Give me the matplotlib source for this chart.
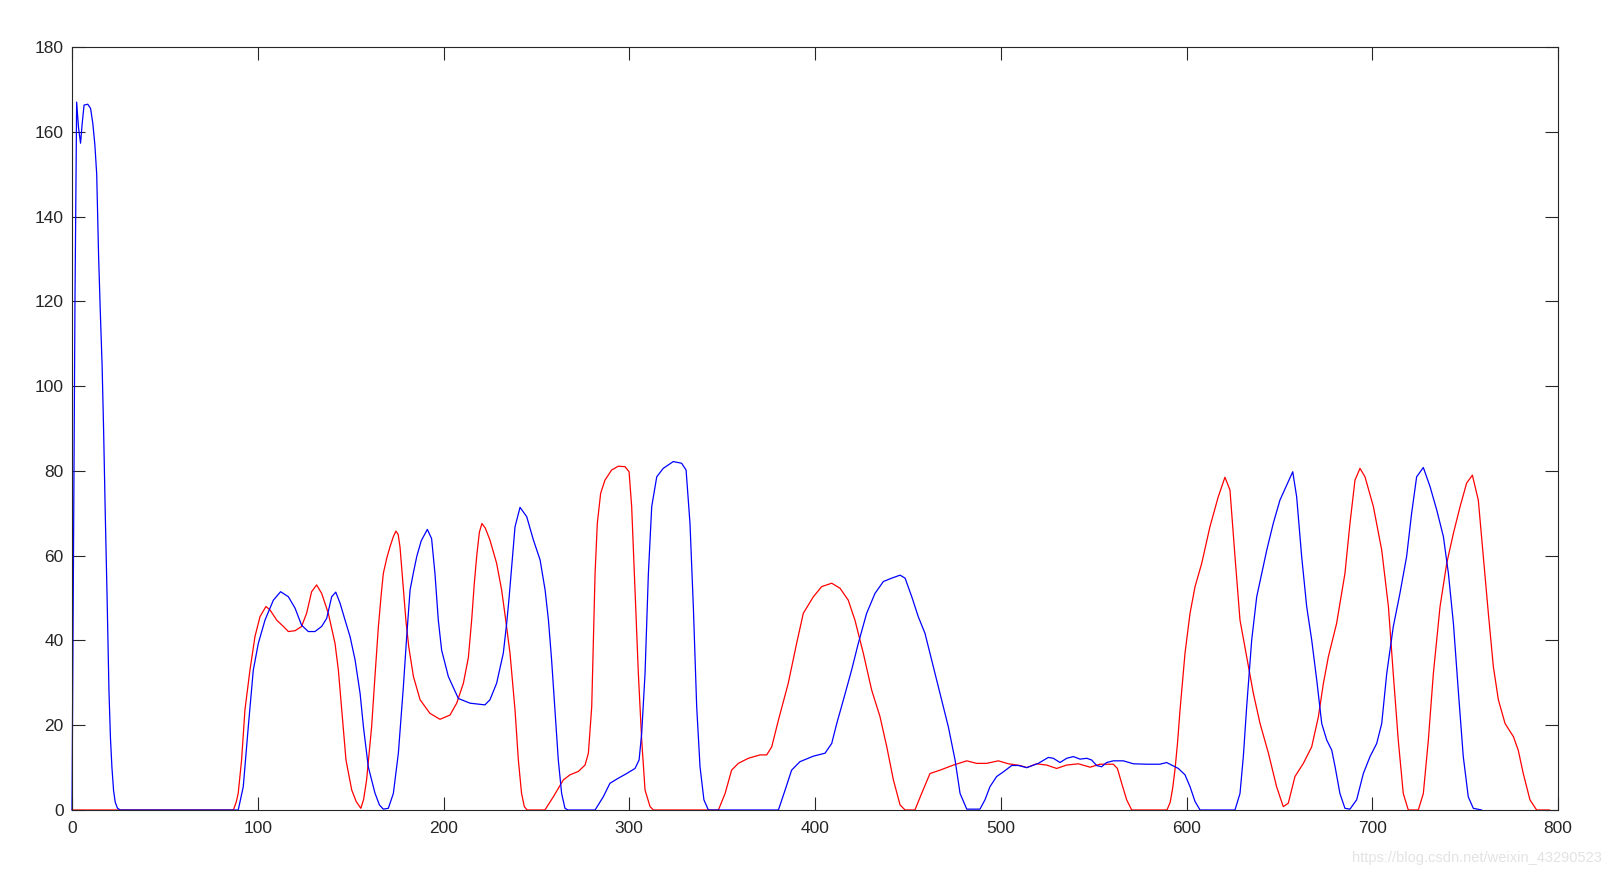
import matplotlib
matplotlib.use("Agg")
import matplotlib.pyplot as plt

# ---- data ----
red_x = [0, 86.9, 88.5, 89.5, 91.3, 93.1, 95.8, 98.5, 101.2, 104.4, 106.6, 110.2, 113.8, 116.5,
         120.1, 123.6, 126.3, 129, 131.7, 134.4, 138, 141.6, 143.4, 145.2, 147.5, 150.6, 153,
         155.5, 157, 158.6, 161.3, 163.1, 164.9, 166.5, 167.6, 169.5, 171.2, 173, 174.4, 175.6,
         176.6, 178.4, 179.8, 181.3, 183.8, 187.4, 192.7, 198.1, 203.5, 207.1, 210.7, 213.4,
         215.2, 216.5, 217.9, 219.3, 220.7, 222.5, 225, 228.6, 231.3, 233.5, 235.8, 238.5,
         240.3, 242, 243.5, 245, 254.6, 259.1, 264.5, 268.1, 272.6, 276.2, 278, 279.8, 280.7,
         281.6, 282.8, 284.6, 286.9, 290.5, 294.1, 297.7, 299.9, 301.3, 303.1, 304.9, 306.7,
         308.5, 311.2, 313, 348, 351.6, 355.1, 358.7, 364.1, 370.4, 374, 376.7, 380.3, 385.6,
         390.1, 393.7, 399.1, 403.6, 409, 413.5, 417.9, 421.5, 426, 430.5, 435, 438.6, 442.2,
         445.8, 448.5, 453.8, 457.4, 461.9, 467.3, 474.5, 481.7, 487, 492.4, 498.7, 504.1,
         510.4, 514, 519.3, 524.7, 530.1, 535.5, 541.8, 548.1, 553.4, 560.6, 562.8, 565.1,
         567.8, 570.5, 589.5, 591.2, 592.5, 593.8, 595.2, 596.5, 598, 599.2, 601.9, 604.6,
         608.2, 612.6, 617.1, 620.7, 623.4, 626.1, 628.8, 632.4, 636, 639.6, 644.1, 648.5,
         652.1, 654.8, 658.4, 662.9, 667.4, 671, 673.7, 676.4, 680.8, 685.3, 688, 690.7, 693.4,
         696.1, 700.6, 705.1, 708.7, 711.3, 714, 716.7, 719.4, 724.8, 727.5, 730.2, 732.9,
         736.5, 740.1, 743.7, 747.3, 750.8, 753.9, 757.1, 759.8, 762.5, 765.2, 767.9, 771.5,
         776, 778.6, 781.3, 784.9, 788.5, 795.5]
red_y = [0, 0, 2, 4, 11.8, 23.6, 33, 40.9, 45.6, 48, 47.2, 44.8, 43.3, 42.1,
         42.3, 43.3, 46.4, 51.5, 53.1, 51.1, 46.4, 39.3, 33, 23.6, 11.8, 4.7, 2,
         0.4, 2.5, 7.1, 19.6, 31.5, 43, 51, 55.8, 59.5, 62.1, 64.5, 65.8, 65,
         62, 52, 44.5, 38.5, 31.5, 26, 22.8, 21.4, 22.4, 25.2, 29.9, 36,
         45, 53, 60, 65.5, 67.6, 66.5, 63.7, 58.2, 51.9, 44.8, 37, 23.6,
         11.8, 4, 0.8, 0, 0, 3.1, 7.1, 8.3, 9.1, 10.6, 13.4, 24.4, 40.1,
         55.8, 67.6, 74.7, 77.8, 80.2, 81.1, 81, 79.8, 71.6, 51.9, 32.2, 16.5,
         4.7, 0.8, 0, 0, 3.9, 9.4, 11, 12.2, 13, 13, 14.9, 21.2, 29.9,
         39.3, 46.4, 50.3, 52.7, 53.5, 52.3, 49.5, 44.8, 37, 28.3, 22, 15, 7.1,
         1.2, 0, 0, 3.9, 8.6, 9.4, 10.6, 11.6, 11, 11, 11.6, 10.9,
         10.5, 10, 10.9, 10.6, 9.8, 10.6, 10.9, 10.1, 10.8, 10.8, 9.8, 6.3,
         2.4, 0, 0, 1.8, 5, 9.5, 16, 23.5, 31, 37, 46.4, 52.7,
         58.2, 66.8, 73.9, 78.5, 75.5, 59.8, 44.8, 36.2, 27.5, 20.4, 13.4, 5.5,
         0.8, 1.6, 7.9, 11, 14.9, 22, 29.9, 36.2, 44, 55.8, 67.6, 77.8, 80.6,
         78.6, 71.6, 61.3, 48, 32.2, 16.5, 3.9, 0, 0, 3.9, 16.5, 32.2,
         48, 58.2, 65.3, 71.6, 77.1, 79, 73.1, 59.8, 46.4, 33.8, 26, 20.4,
         17.3, 14.1, 8.6, 2.4, 0, 0]

blue_x = [0, 0.8, 1.6, 2.5, 3.5, 4.6, 5.5, 6.5, 8.5, 10, 11.2, 12.3, 13.3, 14.3, 15.2, 16.2,
          17, 17.9, 18.9, 19.9, 20.7, 21.5, 22.4, 23.3, 24.5, 26, 89.5, 92.2, 94.9, 97.6,
          100.3, 103.9, 108.4, 112.3, 116.5, 120.1, 123.6, 127.2, 130.8, 134.4, 137.1, 139.8,
          142, 144.3, 147, 149.7, 152.4, 155.1, 156.9, 159.5, 163.1, 165.5, 167.6, 170.3, 173,
          175.7, 178.4, 180.2, 182, 183.8, 185.6, 188, 191.3, 193.6, 195.4, 197.2, 199, 202.6,
          208, 214.3, 222.3, 225, 228.6, 232.2, 234, 235.3, 236.7, 238.5, 241.2, 244.8, 248.4,
          252, 254.7, 256.5, 258.2, 260, 261.8, 263.6, 265.4, 267, 281.6, 286, 289.6, 294.1,
          298.6, 303.1, 305.3, 306.7, 308.5, 310.3, 312.1, 314.8, 318.3, 323.7, 328.2, 330.6,
          332.7, 334.5, 336.3, 338.1, 340.2, 342.6, 380.3, 383.9, 387.4, 391.9, 399.1, 405.4,
          409, 411.7, 415.3, 419.7, 423.3, 427.8, 432.3, 436.8, 441.3, 445.8, 448.5, 452.1,
          455.6, 459.2, 462.8, 467.3, 471.8, 475.4, 478.1, 481.7, 488.8, 491.5, 494.2, 497.8,
          501.4, 505.9, 509.5, 514, 520.2, 525.6, 528.3, 531.9, 535.5, 539.1, 542.7, 546.3,
          548.9, 551.6, 554.3, 557, 560.6, 566, 571.4, 578.6, 585.7, 589.3, 592, 595.6, 599.2,
          601.9, 604.6, 607.3, 626.1, 628.8, 630.6, 632.4, 635.1, 637.8, 640.5, 643.2, 646.7,
          650.3, 654.8, 657.2, 659.3, 662, 664.7, 667.4, 670.1, 672.8, 675.5, 678.2, 680,
          682.6, 685.3, 688, 691.6, 695.2, 698.8, 702.4, 705.1, 707.8, 711.3, 714.9, 718.5,
          721.2, 723.9, 727.5, 731.1, 734.7, 738.3, 741, 743.7, 746.3, 749, 751.7, 754.4, 758.9]
blue_y = [0, 60, 120, 167, 161, 157.3, 162, 166.3, 166.5, 165.5, 162, 157, 150, 131, 118, 105,
          90, 70, 50, 28, 17, 10, 4.5, 1.8, 0.4, 0, 0, 5.5, 19.6, 33,
          39.3, 44.8, 49.5, 51.5, 50.3, 47.6, 43.6, 42.1, 42.1, 43.3, 45.2, 50.3,
          51.4, 48.8, 44.8, 40.9, 35.4, 27.5, 19.6, 10.2, 4, 1.2, 0.2, 0.4, 3.9,
          13.4, 29.1, 41, 51.9, 56, 59.8, 63.5, 66.2, 64, 55.8, 44.8, 37.7, 31.5,
          26.3, 25.2, 24.8, 26, 29.9, 37, 44, 50, 57.4, 66.8, 71.4, 69.2, 63.7,
          59, 51.9, 44.8, 35.4, 23.6, 11.8, 3.9, 0.4, 0, 0, 3.1, 6.3, 7.5,
          8.6, 9.8, 11.8, 18.1, 32.2, 55.8, 71.6, 78.6, 80.6, 82.2, 81.8, 80.2,
          67.6, 48, 24.4, 10.2, 2.4, 0, 0, 4.7, 9.4, 11.4, 12.7, 13.4,
          15.7, 20.4, 26, 33, 39.3, 46.4, 51.1, 53.9, 54.7, 55.4, 54.7, 50.3,
          45.6, 41.7, 35.4, 27.5, 19.6, 11.8, 3.9, 0.2, 0.2, 2.4, 5.5, 7.9,
          9, 10.5, 10.5, 10, 11, 12.4, 12.2, 11.2, 12.2, 12.6, 12, 12.2,
          11.8, 10.5, 10.2, 11.2, 11.6, 11.6, 10.9, 10.8, 10.8, 11.2, 10.6, 9.8, 8.3,
          5.5, 2, 0, 0, 3.9, 12.6, 24.4, 40.1, 50.3, 55.8, 61.3, 67.6,
          73.1, 77.5, 79.8, 73.9, 59.8, 48, 40.1, 30.7, 20.4, 16.5, 14.1, 10.2,
          3.9, 0.4, 0.2, 2.4, 8.6, 12.6, 15.7, 20.4, 32.2, 43.2, 51.1, 59.8,
          70, 78.6, 80.8, 76.3, 70.8, 64.5, 55.8, 44, 28.3, 12.6, 3.1, 0.4, 0]

x_ticks = [0, 100, 200, 300, 400, 500, 600, 700, 800]
y_ticks = [0, 20, 40, 60, 80, 100, 120, 140, 160, 180]
watermark = "https://blog.csdn.net/weixin_43290523"

# ---- figure ----
plt.rcParams['font.family'] = ['Liberation Sans', 'DejaVu Sans']
fig = plt.figure(figsize=(16.12, 8.76), dpi=100)
ax = fig.add_axes([72 / 1612, 66 / 876, (1558 - 72) / 1612, (810 - 47) / 876])

line_kw = dict(lw=0.9, clip_on=False, solid_joinstyle='round', solid_capstyle='round')
ax.plot(red_x, red_y, color=(1, 0, 0), zorder=2, **line_kw)
ax.plot(blue_x, blue_y, color=(0, 0, 1), zorder=2.1, **line_kw)

ax.set_xlim(0, 800)
ax.set_ylim(0, 180)
ax.set_xticks(x_ticks)
ax.set_yticks(y_ticks)

dark = '#262626'
for s in ax.spines.values():
    s.set_color(dark)
    s.set_linewidth(0.8)
    s.set_zorder(3)
ax.tick_params(direction='in', length=9.5, width=0.8, color=dark, labelcolor=dark,
               labelsize=12.5, top=True, right=True)
ax.tick_params(axis='x', pad=8)
ax.tick_params(axis='y', pad=6)

fig.text(1602 / 1612, 1 - 858 / 876, watermark, ha='right', va='center',
         fontsize=10.5, color='#e3e3e3')

fig.savefig('out.png', dpi=100)
